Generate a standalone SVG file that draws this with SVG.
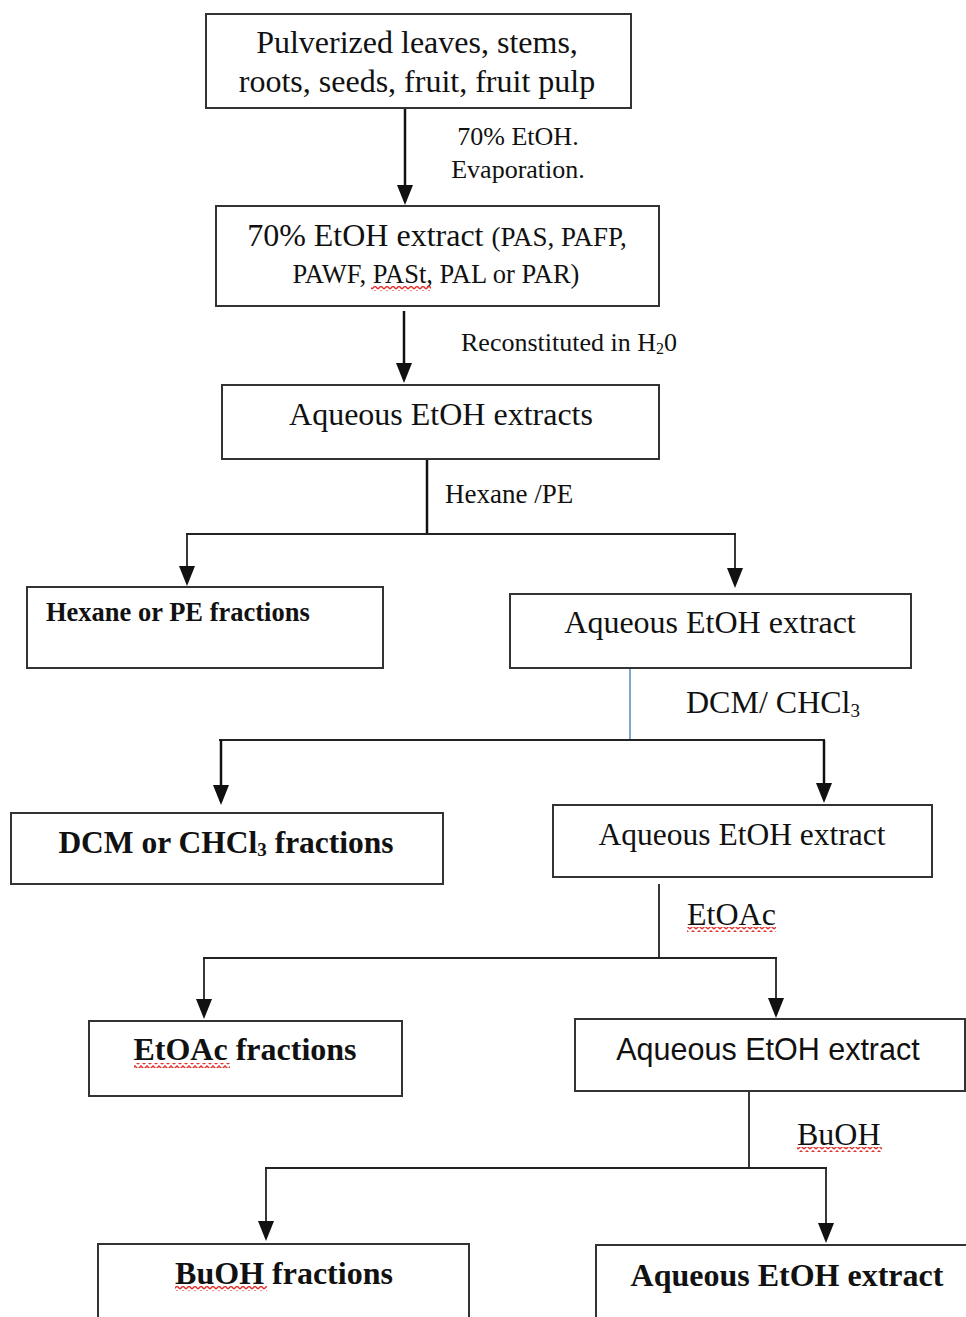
<svg xmlns="http://www.w3.org/2000/svg" width="966" height="1317" viewBox="0 0 966 1317">
<style>
.box{fill:#fff;stroke:#333;stroke-width:2}
.ln{fill:none;stroke:#111;stroke-width:2.5}
.thin{fill:none;stroke:#222;stroke-width:1.8}
.t{font-family:"Liberation Serif","Times New Roman",serif;fill:#111}
.b{font-family:"Liberation Serif","Times New Roman",serif;font-weight:bold;fill:#111}
.s{font-family:"Liberation Sans",Arial,sans-serif;fill:#111}
</style>
<defs>
<marker id="ah" markerUnits="userSpaceOnUse" markerWidth="20" markerHeight="16" viewBox="0 0 20 16" refX="16" refY="8" orient="auto">
<path d="M0,0 L20,8 L0,16 z" fill="#111"/>
</marker>
<pattern id="wave" patternUnits="userSpaceOnUse" width="6" height="5">
<path d="M0,4 L3,1 L6,4" fill="none" stroke="#e0332f" stroke-width="1.5"/>
</pattern>
</defs>

<g id="connectors">
<line class="ln" x1="405" y1="108" x2="405" y2="201" marker-end="url(#ah)"/>
<line class="ln" x1="404" y1="311" x2="404" y2="379" marker-end="url(#ah)"/>
<line class="ln" x1="427" y1="459" x2="427" y2="534"/>
<line class="thin" x1="186" y1="534" x2="736" y2="534"/>
<line class="thin" x1="187" y1="534" x2="187" y2="582" marker-end="url(#ah)"/>
<line class="thin" x1="735" y1="534" x2="735" y2="584" marker-end="url(#ah)"/>
<line x1="630" y1="668" x2="630" y2="740" stroke="#3a7ab5" stroke-width="1.3"/>
<line class="thin" x1="219" y1="740" x2="825" y2="740"/>
<line class="ln" x1="221" y1="740" x2="221" y2="801" marker-end="url(#ah)"/>
<line class="ln" x1="824" y1="740" x2="824" y2="799" marker-end="url(#ah)"/>
<line class="thin" x1="659" y1="884" x2="659" y2="958"/>
<line class="thin" x1="203" y1="958" x2="777" y2="958"/>
<line class="thin" x1="204" y1="958" x2="204" y2="1015" marker-end="url(#ah)"/>
<line class="thin" x1="776" y1="958" x2="776" y2="1014" marker-end="url(#ah)"/>
<line class="thin" x1="749" y1="1091" x2="749" y2="1168"/>
<line class="thin" x1="265" y1="1168" x2="827" y2="1168"/>
<line class="thin" x1="266" y1="1168" x2="266" y2="1237" marker-end="url(#ah)"/>
<line class="thin" x1="826" y1="1168" x2="826" y2="1239" marker-end="url(#ah)"/>
<text class="t" x="518" y="145" font-size="26" text-anchor="middle">70% EtOH.</text>
<text class="t" x="518" y="178" font-size="26" text-anchor="middle">Evaporation.</text>
<text class="t" x="461" y="351" font-size="26">Reconstituted in H<tspan font-size="16" dy="3">2</tspan><tspan dy="-3">0</tspan></text>
<text class="t" x="445" y="503" font-size="27">Hexane /PE</text>
<text class="t" x="686" y="713" font-size="32">DCM/ CHCl<tspan font-size="19" dy="4">3</tspan></text>
<text class="t" x="687" y="925" font-size="32">EtOAc</text>
<rect x="687" y="927" width="89" height="5" fill="url(#wave)"/>
<text class="t" x="797" y="1145" font-size="32">BuOH</text>
<rect x="797" y="1147" width="85" height="5" fill="url(#wave)"/>
</g>

<g id="n1">
<rect class="box" x="206" y="14" width="425" height="94"/>
<text class="t" x="417" y="53" font-size="32" text-anchor="middle">Pulverized leaves, stems,</text>
<text class="t" x="417" y="92" font-size="32" text-anchor="middle">roots, seeds, fruit, fruit pulp</text>
</g>
<g id="n2">
<rect class="box" x="216" y="206" width="443" height="100"/>
<text class="t" x="437" y="246" font-size="32" text-anchor="middle">70% EtOH extract <tspan font-size="27">(PAS, PAFP,</tspan></text>
<text class="t" x="436" y="283" font-size="26.5" text-anchor="middle">PAWF, PASt, PAL or PAR)</text>
<rect x="371" y="286" width="60" height="5" fill="url(#wave)"/>
</g>
<g id="n3">
<rect class="box" x="222" y="385" width="437" height="74"/>
<text class="t" x="441" y="425" font-size="32" text-anchor="middle">Aqueous EtOH extracts</text>
</g>
<g id="n4">
<rect class="box" x="27" y="587" width="356" height="81"/>
<text class="b" x="46" y="621" font-size="26.5">Hexane or PE fractions</text>
</g>
<g id="n5">
<rect class="box" x="510" y="594" width="401" height="74"/>
<text class="t" x="710" y="633" font-size="32" text-anchor="middle">Aqueous EtOH extract</text>
</g>
<g id="n6">
<rect class="box" x="11" y="813" width="432" height="71"/>
<text class="b" x="226" y="853" font-size="31.5" text-anchor="middle">DCM or CHCl<tspan font-size="19" dy="3">3</tspan><tspan dy="-3"> fractions</tspan></text>
</g>
<g id="n7">
<rect class="box" x="553" y="805" width="379" height="72"/>
<text class="t" x="742" y="845" font-size="31.5" text-anchor="middle">Aqueous EtOH extract</text>
</g>
<g id="n8">
<rect class="box" x="89" y="1021" width="313" height="75"/>
<text class="b" x="245" y="1060" font-size="32" text-anchor="middle">EtOAc fractions</text>
<rect x="134" y="1063" width="96" height="5" fill="url(#wave)"/>
</g>
<g id="n9">
<rect class="box" x="575" y="1019" width="390" height="72"/>
<text class="s" x="768" y="1060" font-size="30.5" text-anchor="middle">Aqueous EtOH extract</text>
</g>
<g id="n10">
<rect class="box" x="98" y="1244" width="371" height="90"/>
<text class="b" x="284" y="1284" font-size="32" text-anchor="middle">BuOH fractions</text>
<rect x="175" y="1286" width="92" height="5" fill="url(#wave)"/>
</g>
<g id="n11">
<rect class="box" x="596" y="1245" width="390" height="90"/>
<text class="b" x="787" y="1286" font-size="32" text-anchor="middle">Aqueous EtOH extract</text>
</g>
</svg>
